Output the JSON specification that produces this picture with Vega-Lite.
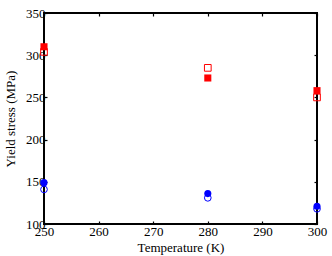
{
  "$schema": "https://vega.github.io/schema/vega-lite/v6.json",
  "width": 273,
  "height": 211,
  "autosize": "none",
  "padding": {"left": 44, "top": 13, "right": 15, "bottom": 32},
  "background": "white",
  "config": {
    "view": {"stroke": "black", "strokeWidth": 2},
    "font": "Liberation Serif",
    "axis": {
      "grid": false,
      "domain": false,
      "labelFlush": false,
      "labelOverlap": false,
      "tickColor": "black",
      "tickWidth": 1.2,
      "tickSize": -3,
      "labelFont": "Liberation Serif",
      "labelFontSize": 13,
      "labelColor": "black",
      "titleFont": "Liberation Serif",
      "titleFontSize": 13,
      "titleFontWeight": "normal",
      "titleColor": "black"
    }
  },
  "data": {
    "values": [
      {"T": 250, "stress": 310, "series": "red", "fill": "solid"},
      {"T": 280, "stress": 273, "series": "red", "fill": "solid"},
      {"T": 300, "stress": 258, "series": "red", "fill": "solid"},
      {"T": 250, "stress": 304, "series": "red", "fill": "open"},
      {"T": 280, "stress": 285, "series": "red", "fill": "open"},
      {"T": 300, "stress": 250, "series": "red", "fill": "open"},
      {"T": 250, "stress": 149, "series": "blue", "fill": "solid"},
      {"T": 280, "stress": 136, "series": "blue", "fill": "solid"},
      {"T": 300, "stress": 121, "series": "blue", "fill": "solid"},
      {"T": 250, "stress": 141, "series": "blue", "fill": "open"},
      {"T": 280, "stress": 131, "series": "blue", "fill": "open"},
      {"T": 300, "stress": 118, "series": "blue", "fill": "open"}
    ]
  },
  "resolve": {"axis": {"x": "independent", "y": "independent"}},
  "layer": [
    {
      "transform": [{"filter": "datum.fill == 'open'"}],
      "mark": {"type": "point", "filled": false, "size": 45, "strokeWidth": 1, "opacity": 1},
      "encoding": {
        "x": {"field": "T", "type": "quantitative", "scale": {"domain": [250, 300], "nice": false, "zero": false},
              "axis": {"orient": "bottom", "values": [250, 260, 270, 280, 290, 300], "title": "Temperature (K)", "labelPadding": 4, "titlePadding": 3}},
        "y": {"field": "stress", "type": "quantitative", "scale": {"domain": [100, 350], "nice": false, "zero": false},
              "axis": {"orient": "left", "values": [100, 150, 200, 250, 300, 350], "title": "Yield stress (MPa)", "labelPadding": 2, "titlePadding": 8}},
        "color": {"field": "series", "type": "nominal", "scale": {"domain": ["red", "blue"], "range": ["#ff0000", "#0000ff"]}, "legend": null},
        "shape": {"field": "series", "type": "nominal", "scale": {"domain": ["red", "blue"], "range": ["square", "circle"]}, "legend": null}
      }
    },
    {
      "transform": [{"filter": "datum.fill == 'solid'"}],
      "mark": {"type": "point", "filled": true, "size": 50, "opacity": 1},
      "encoding": {
        "x": {"field": "T", "type": "quantitative", "axis": null},
        "y": {"field": "stress", "type": "quantitative", "axis": null},
        "color": {"field": "series", "type": "nominal", "legend": null},
        "shape": {"field": "series", "type": "nominal", "legend": null}
      }
    },
    {
      "transform": [{"filter": "datum.fill == 'solid'"}],
      "mark": {"type": "point", "opacity": 0},
      "encoding": {
        "x": {"field": "T", "type": "quantitative", "axis": {"orient": "top", "values": [250, 260, 270, 280, 290, 300], "labels": false, "title": null, "tickSize": -3}},
        "y": {"field": "stress", "type": "quantitative", "axis": {"orient": "right", "values": [100, 150, 200, 250, 300, 350], "labels": false, "title": null, "tickSize": -3}}
      }
    }
  ]
}
